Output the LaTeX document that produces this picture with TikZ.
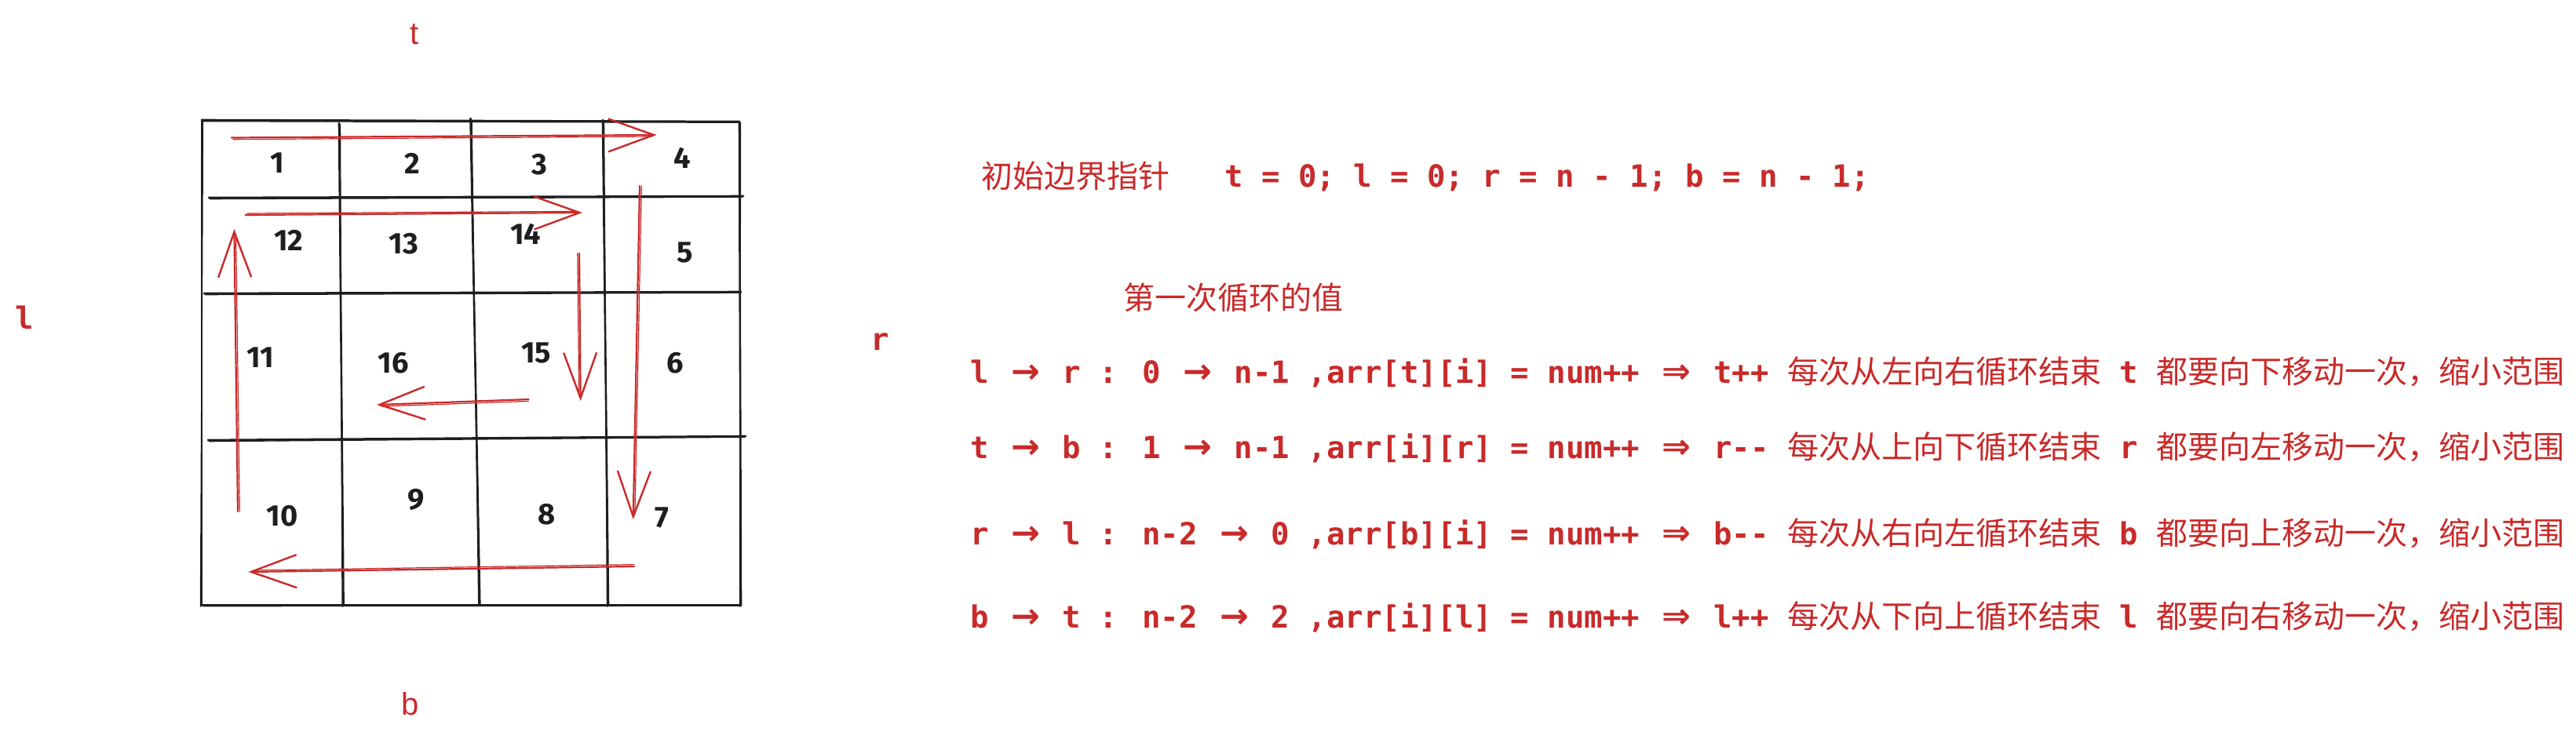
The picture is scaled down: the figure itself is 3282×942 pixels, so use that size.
\documentclass[tikz,border=0pt]{standalone}
\usepackage{fontspec}
\usetikzlibrary{arrows.meta}
\newfontfamily\codefont{DejaVu Sans Mono}
\newfontfamily\arrfont{DejaVu Sans}
\newfontfamily\cjkfont{Noto Sans CJK SC}
\newfontfamily\lblfont{Liberation Sans}
\newfontfamily\digfont{Fira Sans}
\definecolor{exred}{HTML}{C92A2A}
\definecolor{ink}{HTML}{1E1E1E}
\newcommand\RA{\makebox[1.204em][c]{\arrfont\bfseries\fontsize{44}{44}\selectfont →}}
\newcommand\RRA{\makebox[1.204em][c]{\arrfont\bfseries\fontsize{44}{44}\selectfont ⇒}}
\newcommand\cj[1]{{\cjkfont\mdseries\fontsize{40}{48}\selectfont #1}}
\newcommand\skline[4]{\draw[gridline] (#1,#2) -- (#3,#4);
  \draw[gridline,line width=1.4pt] ({#1+1.5},{#2+1.6}) -- ({#3-1.5},{#4+1.2});}
\begin{document}
\begin{tikzpicture}[x=1pt,y=-1pt,
  gridline/.style={draw=ink,line width=2.6pt,line cap=round},
  redline/.style={draw=exred,line width=2.2pt,line cap=round},
  redarrow/.style={redline,-{Straight Barb[length=58pt,width=42pt,line width=2.4pt]}},
  digit/.style={font=\digfont\bfseries\fontsize{38}{44}\selectfont,text=ink,inner sep=0pt},
  codeline/.style={font=\codefont\bfseries\fontsize{39}{47}\selectfont,text=exred,inner sep=0pt,anchor=base west},
  cjkline/.style={font=\cjkfont\fontsize{40}{48}\selectfont,text=exred,inner sep=0pt,anchor=base west},
  sanslbl/.style={font=\lblfont\fontsize{40}{48}\selectfont,text=exred,inner sep=0pt},
  monolbl/.style={font=\codefont\bfseries\fontsize{39}{47}\selectfont,text=exred,inner sep=0pt}]
\useasboundingbox (0,0) rectangle (3282,942);
\fill[white] (0,0) rectangle (3282,942);

% grid
\skline{257}{153}{942}{155}
\skline{257}{153}{257}{772}
\skline{942}{155}{944}{772}
\skline{257}{771}{944}{771}
\skline{266}{252}{947}{250}
\skline{260}{374}{944}{372}
\skline{265}{561}{950}{556}
\skline{432}{157}{437.6}{772}
\skline{599.5}{151}{611.3}{770}
\skline{768}{153}{775}{772}

% digits
\node[digit] (d1) at (353.6,208) {1};
\node[digit] (d2) at (525,208) {2};
\node[digit] (d3) at (687,210) {3};
\node[digit] (d4) at (869.5,201.5) {4};
\node[digit] (d12) at (367.8,306.8) {12};
\node[digit] (d13) at (514.6,311) {13};
\node[digit] (d14) at (669.8,298) {14};
\node[digit] (d5) at (872.7,321.5) {5};
\node[digit] (d11) at (331.5,456) {11};
\node[digit] (d16) at (501.4,462.5) {16};
\node[digit] (d15) at (683,450) {15};
\node[digit] (d6) at (860,462.5) {6};
\node[digit] (d10) at (359.8,658) {10};
\node[digit] (d9) at (529.7,637) {9};
\node[digit] (d8) at (697,656) {8};
\node[digit] (d7) at (843.5,660) {7};

% red arrows
\coordinate (a1s) at (295,175.5);  \coordinate (a1e) at (836.5,172);
\coordinate (a2s) at (312.6,274);  \coordinate (a2e) at (742,271);
\coordinate (a3s) at (303,652);    \coordinate (a3e) at (298.4,292);
\coordinate (a4s) at (815,237);    \coordinate (a4e) at (806.7,662);
\coordinate (a5s) at (738,323);    \coordinate (a5e) at (739.7,511);
\coordinate (a6s) at (673.6,509);  \coordinate (a6e) at (480,516);
\coordinate (a7s) at (808,722);    \coordinate (a7e) at (316.4,729);
\foreach \a in {a1,a2,a3,a4,a5,a6,a7}{
  \draw[redarrow] (\a s) -- (\a e);
}
\draw[redline,line width=1.2pt] ([shift={(2,2.2)}]a1s) -- ([shift={(-6,2)}]a1e);
\draw[redline,line width=1.2pt] ([shift={(2,-2)}]a2s) -- ([shift={(-6,-1.6)}]a2e);
\draw[redline,line width=1.2pt] ([shift={(2.4,0)}]a3s) -- ([shift={(2.2,6)}]a3e);
\draw[redline,line width=1.2pt] ([shift={(2.4,0)}]a4s) -- ([shift={(2.2,-6)}]a4e);
\draw[redline,line width=1.2pt] ([shift={(-2.2,0)}]a5s) -- ([shift={(-2,-6)}]a5e);
\draw[redline,line width=1.2pt] ([shift={(0,2.4)}]a6s) -- ([shift={(6,2)}]a6e);
\draw[redline,line width=1.2pt] ([shift={(0,-2.4)}]a7s) -- ([shift={(6,-2)}]a7e);

% side labels
\node[sanslbl] (lt) at (528,44) {t};
\node[sanslbl] (lb) at (523,897) {b};
\node[monolbl] (ll) at (31,405) {l};
\node[monolbl] (lr) at (1121,436) {r};

% text block
\node[cjkline] (h1) at (1250,239) {初始边界指针};
\node[codeline] (h2) at (1560,238) {t = 0; l = 0; r = n - 1; b = n - 1;};
\node[cjkline] (h3) at (1431,394) {第一次循环的值};
\node[codeline] (L1) at (1236,488) {l \RA{} r : 0 \RA{} n-1 ,arr[t][i] = num++ \RRA{} t++ \cj{每次从左向右循环结束} t \cj{都要向下移动一次，缩小范围}};
\node[codeline] (L2) at (1236,584) {t \RA{} b : 1 \RA{} n-1 ,arr[i][r] = num++ \RRA{} r-{}- \cj{每次从上向下循环结束} r \cj{都要向左移动一次，缩小范围}};
\node[codeline] (L3) at (1236,694) {r \RA{} l : n-2 \RA{} 0 ,arr[b][i] = num++ \RRA{} b-{}- \cj{每次从右向左循环结束} b \cj{都要向上移动一次，缩小范围}};
\node[codeline] (L4) at (1236,800) {b \RA{} t : n-2 \RA{} 2 ,arr[i][l] = num++ \RRA{} l++ \cj{每次从下向上循环结束} l \cj{都要向右移动一次，缩小范围}};
\end{tikzpicture}
\end{document}
